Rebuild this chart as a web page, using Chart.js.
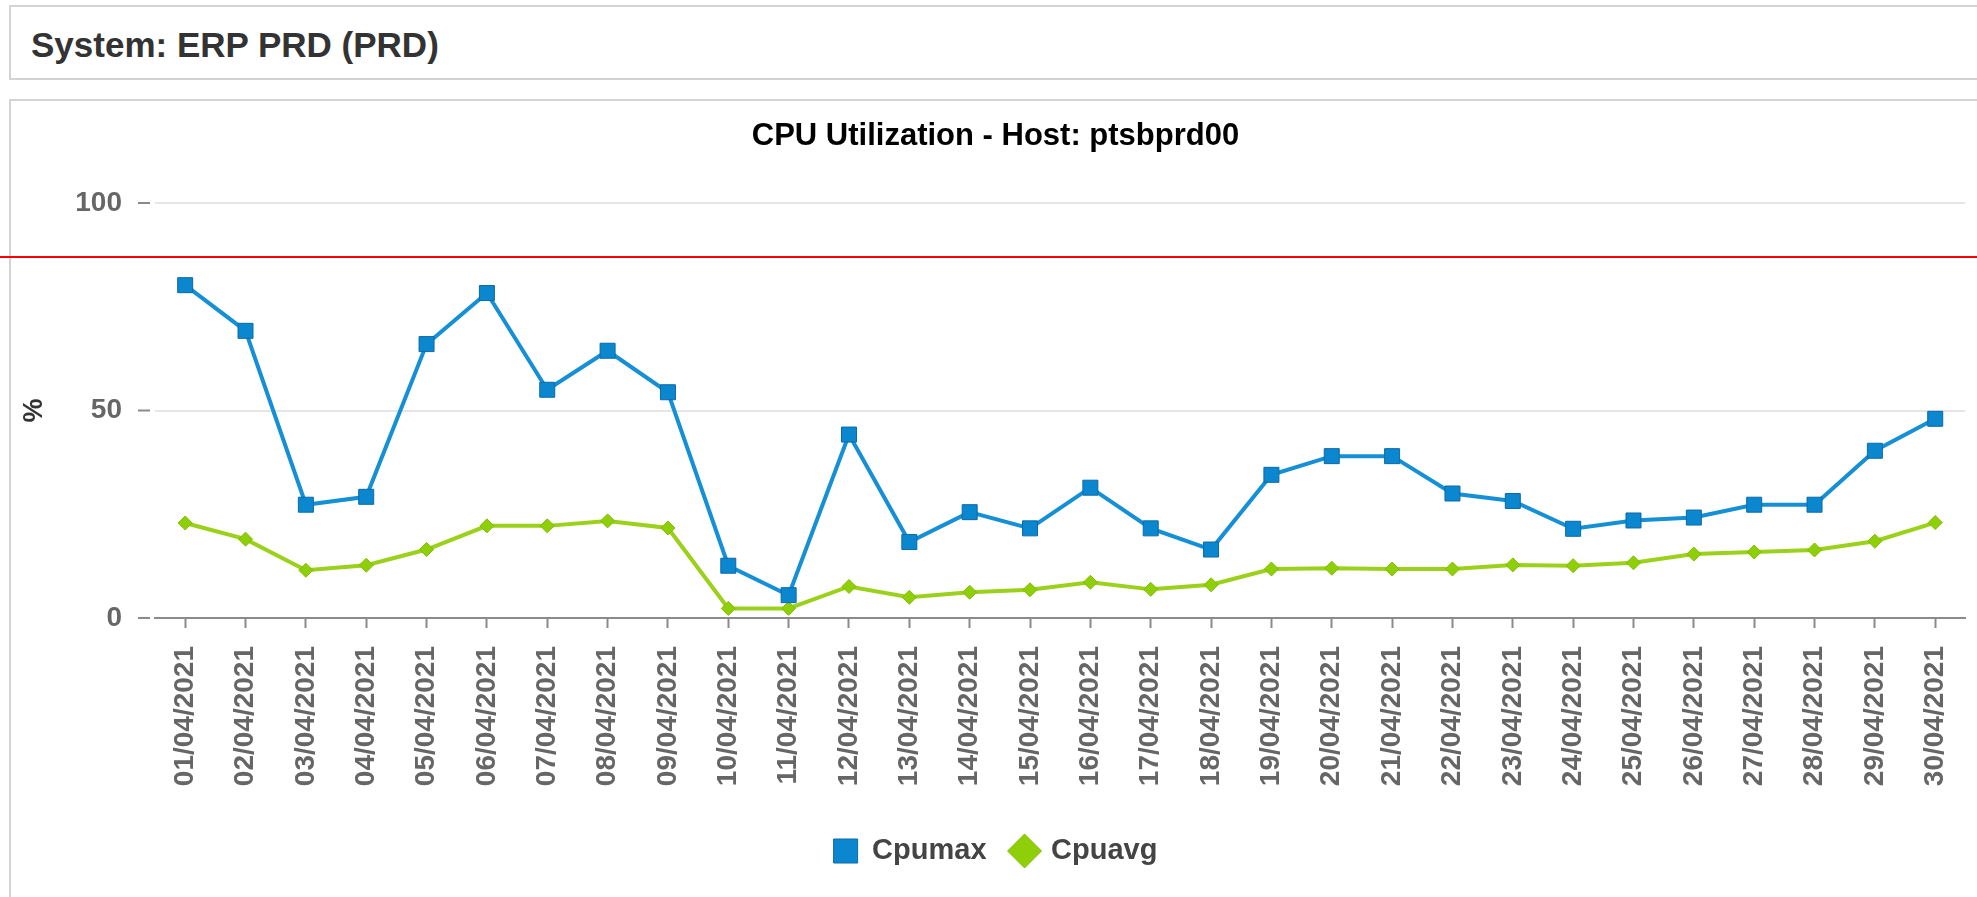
<!DOCTYPE html>
<html lang="en">
<head>
    <meta charset="UTF-8">
    <title>CPU Utilization - Host: ptsbprd00</title>
    <script src="https://cdn.jsdelivr.net/npm/chart.js@4/dist/chart.umd.min.js"></script>
    <style>
        html, body { margin: 0; padding: 0; background: #fff; overflow: hidden; }
        body { width: 1977px; height: 897px; position: relative; font-family: "Liberation Sans", Arial, sans-serif; }
        .system-box { position: absolute; left: 9px; top: 5px; width: 2000px; height: 71px; border: 2px solid #d3d3d3; }
        .system-box span { position: absolute; left: 20px; top: 18px; line-height: 40px; font-size: 35px; font-weight: bold; color: #333; }
        .chart-box { position: absolute; left: 9px; top: 99px; width: 2000px; height: 900px; border: 2px solid #d3d3d3; }
        .chart-wrap { position: absolute; left: 0; top: 0; width: 1977px; height: 897px; }
        .red-line { position: absolute; left: 0; top: 256px; width: 1977px; height: 2px; background: #ff0000; z-index: 5; }
    </style>
</head>
<body>
    <div class="system-box"><span>System: ERP PRD (PRD)</span></div>
    <div class="chart-box"></div>
    <div class="chart-wrap"><canvas id="cpuChart"></canvas></div>
    <div class="red-line"></div>

    <script>
        // data
        const dates = [
            '01/04/2021', '02/04/2021', '03/04/2021', '04/04/2021', '05/04/2021', '06/04/2021',
            '07/04/2021', '08/04/2021', '09/04/2021', '10/04/2021', '11/04/2021', '12/04/2021',
            '13/04/2021', '14/04/2021', '15/04/2021', '16/04/2021', '17/04/2021', '18/04/2021',
            '19/04/2021', '20/04/2021', '21/04/2021', '22/04/2021', '23/04/2021', '24/04/2021',
            '25/04/2021', '26/04/2021', '27/04/2021', '28/04/2021', '29/04/2021', '30/04/2021'
        ];
        const cpumax = [80.2, 69.2, 27.3, 29.2, 66, 78.3, 55, 64.4, 54.4, 12.6, 5.5, 44.2, 18.3, 25.5, 21.6,
                        31.4, 21.6, 16.5, 34.5, 39, 39, 30, 28.2, 21.5, 23.5, 24.2, 27.3, 27.3, 40.3, 48];
        const cpuavg = [22.9, 19, 11.5, 12.7, 16.5, 22.2, 22.2, 23.4, 21.7, 2.3, 2.3, 7.6, 5, 6.2, 6.8,
                        8.6, 6.9, 8, 11.8, 12, 11.8, 11.8, 12.8, 12.6, 13.3, 15.4, 15.9, 16.4, 18.5, 23];
        const yTicks = [0, 50, 100];

        Chart.defaults.font.family = '"Liberation Sans", Arial, sans-serif';

        // short dashes left of the y gridlines
        const yTickDashes = {
            id: 'yTickDashes',
            afterDraw(chart) {
                const { ctx, chartArea, scales } = chart;
                ctx.save();
                ctx.strokeStyle = '#8a8a8a';
                ctx.lineWidth = 2;
                yTicks.forEach(v => {
                    const py = scales.y.getPixelForValue(v);
                    ctx.beginPath();
                    ctx.moveTo(chartArea.left - 17, py);
                    ctx.lineTo(chartArea.left - 5, py);
                    ctx.stroke();
                });
                ctx.restore();
            }
        };

        new Chart(document.getElementById('cpuChart'), {
            type: 'line',
            data: {
                labels: dates,
                datasets: [{
                    label: 'Cpumax',
                    data: cpumax,
                    borderColor: '#1590d6',
                    backgroundColor: '#0a87cf',
                    borderWidth: 4,
                    pointStyle: 'rect',
                    pointRadius: 10.6,
                    pointBackgroundColor: '#0a87cf',
                    pointBorderColor: '#0b6aa6',
                    pointBorderWidth: 1,
                    tension: 0
                }, {
                    label: 'Cpuavg',
                    data: cpuavg,
                    borderColor: '#9bd11b',
                    backgroundColor: '#8fd000',
                    borderWidth: 4,
                    pointStyle: 'rectRot',
                    pointRadius: 7,
                    pointBackgroundColor: '#8fcf0a',
                    pointBorderColor: '#80bc00',
                    pointBorderWidth: 1,
                    tension: 0
                }]
            },
            options: {
                responsive: true,
                maintainAspectRatio: false,
                animation: false,
                events: [],
                layout: { padding: { left: 18, right: 4, top: 0, bottom: 21.5 } },
                plugins: {
                    title: {
                        display: true,
                        text: 'CPU Utilization - Host: ptsbprd00',
                        color: '#000',
                        font: { size: 31, weight: 'bold' },
                        padding: { top: 117.4, bottom: 48.4 }
                    },
                    legend: {
                        position: 'bottom',
                        labels: {
                            usePointStyle: true,
                            boxWidth: 24,
                            boxHeight: 24,
                            padding: 26,
                            color: '#444',
                            font: { size: 29, weight: 'bold' }
                        }
                    },
                    tooltip: { enabled: false }
                },
                scales: {
                    x: {
                        offset: true,
                        grid: { offset: false, drawOnChartArea: false, tickLength: 10, tickColor: '#8a8a8a', tickWidth: 2 },
                        border: { color: '#8a8a8a', width: 2 },
                        ticks: {
                            autoSkip: false,
                            minRotation: 90,
                            maxRotation: 90,
                            padding: 18,
                            color: '#666',
                            font: { size: 28, weight: 'bold' }
                        },
                        afterFit: s => { s.height = 192.5; s.paddingRight = 0; }
                    },
                    y: {
                        min: 0,
                        max: 100,
                        afterBuildTicks: s => { s.ticks = yTicks.map(v => ({ value: v })); },
                        grid: { color: '#e6e6e6', lineWidth: 2, drawTicks: false },
                        border: { display: false },
                        ticks: { padding: 33, color: '#666', font: { size: 28, weight: 'bold' } },
                        title: {
                            display: true,
                            text: '%',
                            color: '#333',
                            font: { size: 27, weight: 'bold' },
                            padding: { top: 0, bottom: 0 }
                        },
                        afterFit: s => { s.width = 137; }
                    }
                }
            },
            plugins: [yTickDashes]
        });
    </script>
</body>
</html>
